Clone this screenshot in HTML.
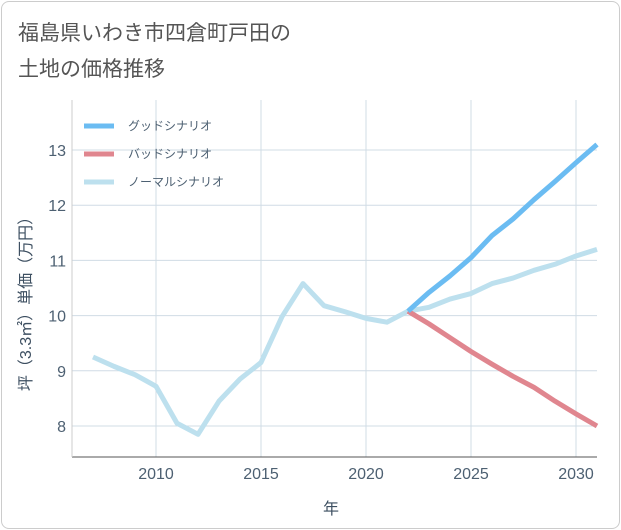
<!DOCTYPE html>
<html><head><meta charset="utf-8"><style>
body{margin:0;background:#fff;font-family:"Liberation Sans","Noto Sans CJK JP",sans-serif;}
#card{position:absolute;left:1px;top:1px;width:617px;height:526px;border:1px solid #ccc;border-radius:8px;background:#fff;}
</style></head><body>
<div id="card"></div>
<svg id="chart" width="621" height="530" style="position:absolute;left:0;top:0">
<text x="18" y="40" font-size="21" fill="#555">福島県いわき市四倉町戸田の</text>
<text x="18" y="76" font-size="21" fill="#555">土地の価格推移</text>
<g id="grid"></g><g id="series"></g><g id="axes"></g>
<g>
<line x1="84" y1="126" x2="114" y2="126" stroke="#6bbcf2" stroke-width="5"/>
<text x="128" y="130" font-size="12" fill="#4d6072">グッドシナリオ</text>
<line x1="84" y1="154" x2="114" y2="154" stroke="#e0868f" stroke-width="5"/>
<text x="128" y="158" font-size="12" fill="#4d6072">バッドシナリオ</text>
<line x1="84" y1="182" x2="114" y2="182" stroke="#bde0ee" stroke-width="5"/>
<text x="128" y="186" font-size="12" fill="#4d6072">ノーマルシナリオ</text>
</g>
<text x="331" y="514" font-size="16" fill="#3d4f61" text-anchor="middle">年</text>
<text transform="translate(31,300) rotate(-90)" font-size="16" fill="#3d4f61" text-anchor="middle">坪（3.3㎡）単価（万円）</text>
</svg>
<script>
const normalYears=[2007,2008,2009,2010,2011,2012,2013,2014,2015,2016,2017,2018,2019,2020,2021,2022,2023,2024,2025,2026,2027,2028,2029,2030,2031];
const normalValues=[9.25,9.08,8.93,8.72,8.05,7.85,8.45,8.85,9.15,9.98,10.58,10.18,10.07,9.95,9.88,10.08,10.15,10.30,10.40,10.58,10.68,10.82,10.93,11.08,11.20];
const forecastYears=[2022,2023,2024,2025,2026,2027,2028,2029,2030,2031];
const goodValues=[10.08,10.42,10.72,11.05,11.45,11.75,12.1,12.43,12.77,13.1];
const badValues=[10.08,9.85,9.6,9.35,9.12,8.9,8.7,8.45,8.22,8.0];
const xTicks=[2010,2015,2020,2025,2030];
const yTicks=[8,9,10,11,12,13];
const L=72,R=597,T=100,B=457;
const x=y=>156+(y-2010)*21;
const yy=v=>426-(v-8)*55.2;
const NS='http://www.w3.org/2000/svg';
function mk(tag,attrs,parent){const e=document.createElementNS(NS,tag);for(const k in attrs)e.setAttribute(k,attrs[k]);document.getElementById(parent).appendChild(e);return e;}
xTicks.forEach(yr=>{const g=mk('line',{x1:x(yr),x2:x(yr),y1:T,y2:B,stroke:'#d0dce5','stroke-width':1},'grid');

});
yTicks.forEach(v=>{const g=mk('line',{x1:L,x2:R,y1:yy(v),y2:yy(v),stroke:'#d0dce5','stroke-width':1},'grid');


const t=mk('text',{x:L-6,y:yy(v)+6,'font-size':16,fill:'#4d6072','text-anchor':'end'},'axes');t.textContent=v;

});
xTicks.forEach(v=>{const t=mk('text',{x:x(v),y:479,'font-size':16,fill:'#4d6072','text-anchor':'middle'},'axes');t.textContent=v;

});
const ax=mk('line',{x1:L,x2:R,y1:B,y2:B,stroke:'#555','stroke-width':1},'axes');


const ay=mk('line',{x1:L,x2:L,y1:T,y2:B,stroke:'#ccc','stroke-width':1},'axes');


function line(xs,vs,color,name){const p=mk('polyline',{points:xs.map((a,i)=>x(a)+','+yy(vs[i])).join(' '),fill:'none',stroke:color,'stroke-width':5,'stroke-linejoin':'round'},'series');

}
line(normalYears,normalValues,'#bde0ee','normal-line');
line(forecastYears,badValues,'#e0868f','bad-line');
line(forecastYears,goodValues,'#6bbcf2','good-line');
</script>
</body></html>
